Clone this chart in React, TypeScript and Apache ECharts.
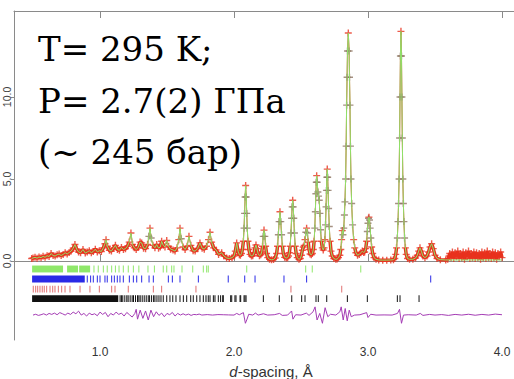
import React, { useEffect, useRef } from 'react';
import * as echarts from 'echarts';

const xTicks = [1.0, 2.0, 3.0, 4.0];
const yTicks = [0, 5, 10];
const titleLines = ['T= 295 K;', 'P= 2.7(2) ГПа', '(~ 245 бар)'];

// calculated profile [d, intensity]
const calcProfile: [number, number][] = [
  [0.49,0.15],[0.50,0.18],[0.515,0.22],[0.53,0.17],[0.545,0.24],[0.56,0.2],[0.575,0.28],[0.59,0.22],[0.605,0.32],[0.62,0.27],
  [0.635,0.45],[0.65,0.33],[0.665,0.3],[0.68,0.38],[0.695,0.42],[0.71,0.33],[0.725,0.4],[0.74,0.5],[0.755,0.42],[0.77,0.52],
  [0.785,0.6],[0.80,0.78],[0.813,1.0],[0.826,0.72],[0.84,0.55],[0.855,0.5],[0.873,0.7],[0.89,0.48],[0.905,0.55],[0.92,0.62],
  [0.935,0.5],[0.95,0.58],[0.965,0.72],[0.98,0.55],[0.995,0.62],[1.01,0.58],[1.025,0.8],[1.037,1.05],[1.045,1.3],[1.055,0.9],
  [1.07,0.65],[1.085,0.6],[1.10,0.78],[1.115,0.95],[1.13,0.7],[1.145,0.65],[1.16,0.82],[1.175,0.7],[1.19,0.75],[1.205,0.9],
  [1.218,1.15],[1.231,1.7],[1.243,1.0],[1.256,0.8],[1.27,0.7],[1.285,0.82],[1.299,1.15],[1.311,1.1],[1.325,0.78],[1.34,0.75],
  [1.355,1.0],[1.365,1.5],[1.373,2.0],[1.382,1.4],[1.395,0.95],[1.41,0.8],[1.423,1.0],[1.437,0.78],[1.45,0.85],[1.46,1.2],
  [1.472,0.95],[1.485,0.85],[1.498,1.25],[1.512,0.9],[1.527,0.72],[1.545,0.67],[1.56,0.6],[1.575,0.8],[1.588,1.3],[1.597,2.0],
  [1.606,1.35],[1.62,0.85],[1.635,0.7],[1.65,0.9],[1.664,1.5],[1.678,0.95],[1.695,0.62],[1.71,0.6],[1.728,0.75],[1.746,1.1],
  [1.762,0.78],[1.778,0.72],[1.795,0.9],[1.81,1.3],[1.821,1.75],[1.833,1.15],[1.848,0.8],[1.866,0.67],[1.885,0.4],[1.908,0.5],
  [1.925,0.3],[1.945,0.18],[1.965,0.15],[1.985,0.2],[2.0,0.3],[2.01,0.6],[2.02,1.1],[2.03,0.6],[2.04,0.38],
  [2.048,0.35],[2.056,0.45],[2.063,0.7],[2.07,1.2],[2.075,2.0],[2.079,2.9],[2.083,3.9],[2.087,4.6],[2.091,3.9],[2.095,2.9],
  [2.099,2.0],[2.104,1.2],[2.111,0.7],[2.12,0.4],[2.13,0.3],
  [2.14,0.32],[2.15,0.5],[2.157,0.8],[2.164,0.97],[2.171,0.75],[2.18,0.45],[2.19,0.32],
  [2.2,0.38],[2.207,0.55],[2.213,0.9],[2.218,1.5],[2.224,1.88],[2.23,1.5],[2.236,0.9],[2.243,0.45],[2.252,0.2],[2.265,0.1],[2.28,0.07],
  [2.295,0.09],[2.307,0.18],[2.318,0.45],[2.325,0.9],[2.331,1.6],[2.337,2.4],[2.343,3.0],[2.349,2.4],[2.355,1.6],[2.361,0.9],
  [2.368,0.45],[2.378,0.22],[2.39,0.18],
  [2.4,0.2],[2.407,0.3],[2.413,0.5],[2.419,0.9],[2.425,1.7],[2.43,2.6],[2.434,3.3],[2.438,3.7],[2.442,3.3],[2.446,2.6],
  [2.451,1.7],[2.457,0.9],[2.464,0.45],[2.472,0.2],[2.485,0.1],
  [2.495,0.15],[2.503,0.35],[2.51,0.65],[2.517,0.85],[2.524,0.95],[2.53,1.3],[2.536,1.75],[2.542,2.0],[2.548,1.7],[2.554,1.15],
  [2.56,0.7],[2.568,0.42],[2.577,0.38],
  [2.585,0.45],[2.592,0.7],[2.598,1.2],[2.603,2.0],[2.607,3.0],[2.611,4.1],[2.614,4.8],[2.617,5.2],[2.621,4.8],[2.626,4.2],
  [2.631,3.95],[2.636,3.7],[2.641,2.9],[2.646,1.9],[2.652,1.2],[2.659,0.8],[2.666,0.67],
  [2.672,0.8],[2.678,1.3],[2.683,2.2],[2.687,3.3],[2.69,4.3],[2.693,5.1],[2.696,5.6],[2.699,5.1],[2.702,4.3],[2.706,3.2],
  [2.711,2.1],[2.717,1.2],[2.724,0.6],[2.733,0.3],[2.745,0.15],[2.76,0.1],[2.77,0.12],
  [2.78,0.2],[2.79,0.35],[2.797,0.7],[2.803,1.3],[2.808,1.85],[2.813,1.6],[2.819,2.0],[2.824,2.8],[2.828,3.6],[2.833,5.0],
  [2.837,7.0],[2.8405,9.5],[2.844,11.2],[2.847,12.8],[2.853,13.9],[2.859,12.8],[2.862,11.2],[2.8655,9.5],[2.869,7.0],[2.873,5.0],
  [2.878,3.5],[2.885,2.2],[2.893,1.3],[2.901,0.8],[2.91,0.5],[2.922,0.35],
  [2.935,0.4],[2.947,0.5],[2.958,0.6],[2.968,0.52],[2.975,0.55],[2.983,0.75],[2.99,1.2],[2.995,1.8],[3.0,2.3],[3.004,2.6],
  [3.007,2.67],[3.011,2.5],[3.016,2.0],[3.021,1.4],[3.027,0.85],[3.035,0.45],[3.045,0.2],[3.06,0.1],[3.08,0.06],[3.11,0.05],
  [3.14,0.05],[3.17,0.06],
  [3.19,0.08],[3.2,0.15],[3.207,0.4],[3.213,0.8],[3.219,1.4],[3.224,2.4],[3.228,3.5],[3.232,5.0],[3.236,7.5],[3.239,10.0],
  [3.242,12.5],[3.246,14.0],[3.25,12.5],[3.253,10.0],[3.256,7.5],[3.26,5.0],[3.264,3.5],[3.268,2.4],[3.273,1.4],[3.279,0.8],
  [3.285,0.4],[3.295,0.15],[3.31,0.1],
  [3.335,0.1],[3.355,0.18],[3.368,0.35],[3.378,0.6],[3.388,0.8],[3.398,0.6],[3.41,0.3],[3.425,0.2],[3.44,0.3],[3.452,0.55],
  [3.463,0.85],[3.475,1.05],[3.487,0.75],[3.5,0.35],[3.515,0.15],[3.54,0.08],[3.58,0.06],
  [3.62,0.06],[3.7,0.06],[3.8,0.06],[3.9,0.06],[4.0,0.06],
];

// observed high-noise tail (d > 3.6)
const obsTail: [number, number][] = [
  [3.595,0.1],[3.605,0.3],[3.61,0.45],[3.62,0.2],[3.63,0.55],[3.64,0.15],[3.65,0.5],[3.66,0.25],[3.67,0.6],[3.68,0.15],
  [3.69,0.45],[3.70,0.2],[3.71,0.55],[3.72,0.1],[3.73,0.5],[3.74,0.25],[3.75,0.6],[3.76,0.15],[3.77,0.45],[3.78,0.2],
  [3.79,0.55],[3.80,0.15],[3.81,0.5],[3.82,0.2],[3.83,0.45],[3.84,0.1],[3.85,0.55],[3.86,0.2],[3.87,0.5],[3.88,0.15],
  [3.89,0.6],[3.90,0.2],[3.91,0.45],[3.92,0.15],[3.93,0.55],[3.94,0.2],[3.95,0.5],[3.96,0.1],[3.97,0.45],[3.98,0.25],
  [3.99,0.55],[4.00,0.2],
];

// difference curve (offset)
const diffCurve: [number, number][] = [
  [0.50,-3.30],[0.52,-3.25],[0.54,-3.32],[0.56,-3.28],[0.58,-3.22],[0.60,-3.30],[0.62,-3.20],[0.64,-3.26],[0.66,-3.18],[0.68,-3.28],
  [0.70,-3.15],[0.72,-3.22],[0.74,-3.30],[0.76,-3.18],[0.78,-3.26],[0.80,-3.12],[0.82,-3.22],[0.84,-3.06],[0.86,-3.30],[0.88,-3.20],
  [0.90,-3.36],[0.92,-3.18],[0.94,-3.28],[0.96,-3.22],[0.98,-3.34],[1.00,-3.12],[1.02,-3.26],[1.04,-3.14],[1.06,-3.40],[1.08,-3.20],
  [1.10,-3.30],[1.12,-3.12],[1.14,-3.26],[1.16,-3.18],[1.18,-3.36],[1.20,-3.14],[1.22,-3.28],[1.24,-3.42],[1.26,-3.20],[1.27,-2.95],
  [1.28,-3.55],[1.30,-3.00],[1.32,-3.50],[1.34,-3.05],[1.36,-3.60],[1.38,-3.00],[1.40,-3.40],[1.42,-3.10],[1.44,-3.32],[1.46,-3.18],
  [1.48,-3.40],[1.50,-3.20],[1.52,-3.28],[1.54,-3.14],[1.56,-3.36],[1.58,-3.20],[1.60,-3.30],[1.62,-3.22],[1.64,-3.30],[1.66,-3.24],
  [1.68,-3.32],[1.70,-3.26],[1.72,-3.28],[1.74,-3.24],[1.76,-3.30],[1.80,-3.27],[1.84,-3.30],[1.88,-3.27],[1.92,-3.28],[1.96,-3.29],
  [2.00,-3.30],[2.02,-3.20],[2.04,-3.28],[2.07,-3.15],[2.085,-3.80],[2.095,-3.60],[2.11,-3.25],[2.14,-3.30],[2.16,-3.18],[2.18,-3.30],
  [2.22,-3.22],[2.25,-3.30],[2.30,-3.28],[2.34,-3.20],[2.36,-3.32],[2.40,-3.30],[2.43,-3.05],[2.44,-3.55],[2.46,-3.28],[2.50,-3.30],
  [2.54,-3.18],[2.56,-3.32],[2.59,-3.10],[2.605,-2.80],[2.62,-3.60],[2.64,-3.20],[2.66,-3.80],[2.68,-2.85],[2.70,-3.40],[2.72,-3.25],
  [2.76,-3.30],[2.79,-3.10],[2.80,-2.80],[2.815,-3.60],[2.83,-2.90],[2.845,-3.65],[2.86,-3.00],[2.875,-3.40],[2.90,-3.30],[2.94,-3.28],
  [2.99,-3.15],[3.00,-3.45],[3.02,-3.25],[3.06,-3.30],[3.12,-3.29],[3.18,-3.30],[3.22,-3.20],[3.235,-2.95],[3.25,-3.80],[3.265,-3.30],
  [3.30,-3.28],[3.36,-3.30],[3.39,-3.20],[3.41,-3.32],[3.46,-3.26],[3.50,-3.30],[3.55,-3.27],[3.60,-3.32],[3.65,-3.26],[3.70,-3.30],
  [3.75,-3.25],[3.80,-3.31],[3.85,-3.26],[3.90,-3.30],[3.95,-3.24],[4.00,-3.28],
];

// reflection markers (phase tick rows)
const greenBands: [number, number][] = [[0.497,0.728],[0.758,0.84],[0.848,0.93]];
const greenTicks = [0.955,0.987,1.025,1.054,1.087,1.115,1.142,1.174,1.211,1.249,1.29,1.358,1.406,1.472,1.498,1.535,1.552,1.612,1.692,1.771,1.796,1.808,2.095,2.535,2.584,2.946];
const blueBands: [number, number][] = [[0.497,0.89]];
const blueTicks = [0.905,0.93,0.95,0.98,1.0,1.037,1.054,1.087,1.107,1.129,1.149,1.174,1.219,1.249,1.274,1.311,1.366,1.398,1.51,1.54,1.597,1.734,1.957,2.08,2.157,2.373,2.542,3.468];
const redBands: [number, number][] = [];
const redTicks = [0.502,0.52,0.535,0.552,0.569,0.584,0.602,0.627,0.647,0.664,0.689,0.714,0.739,0.776,0.851,0.925,0.995,1.087,1.112,1.211,1.398,1.46,1.716,2.425,2.804];
const blackBands: [number, number][] = [[0.497,1.14]];
const blackTicks = [1.15,1.16,1.17,1.185,1.2,1.21,1.225,1.24,1.25,1.265,1.28,1.29,1.3,1.315,1.33,1.345,1.36,1.37,1.385,1.4,1.41,1.425,1.44,1.455,1.472,1.498,1.522,1.543,1.567,1.597,1.622,1.647,1.677,1.696,1.722,1.746,1.771,1.791,1.808,1.821,1.846,1.858,1.883,1.9,1.916,1.92,1.975,1.983,2.007,2.015,2.045,2.05,2.075,2.082,2.09,2.219,2.338,2.431,2.505,2.53,2.612,2.629,2.692,2.846,2.995,3.219,3.239,3.381];
const rowCenters = [-0.49, -1.1, -1.72, -2.3];

const PLUS = 'path://M4,0H6V4H10V6H6V10H4V6H0V4H4Z';

export default function App() {
  const ref = useRef<HTMLDivElement>(null);
  useEffect(() => {
    const chart = echarts.init(ref.current!, null, { renderer: 'svg' });
    const obsProfile: [number, number][] = [...calcProfile.filter((p) => p[0] < 3.59), ...obsTail];
    // background part of the observed pattern, drawn as a thick band (peaks masked out)
    const obsBand = obsProfile.map((p) => (p[1] < 1.25 ? p : [p[0], null]));

    const rows = [
      { bands: greenBands, ticks: greenTicks, c: rowCenters[0], color: '#8fe86a' },
      { bands: blueBands, ticks: blueTicks, c: rowCenters[1], color: '#2a2ae6' },
      { bands: redBands, ticks: redTicks, c: rowCenters[2], color: '#e07070' },
      { bands: blackBands, ticks: blackTicks, c: rowCenters[3], color: '#111111' },
    ];
    const halfH = 0.21;
    const rowSeries = rows.map((r) => ({
      type: 'custom',
      silent: true,
      z: 4,
      encode: { x: [0, 1], y: 2 },
      data: [
        ...r.bands.map((b) => [b[0], b[1], r.c]),
        ...r.ticks.map((t) => [t, t, r.c]),
      ],
      renderItem: (params: any, api: any) => {
        const p0 = api.coord([api.value(0), api.value(2) + halfH]);
        const p1 = api.coord([api.value(1), api.value(2) - halfH]);
        return {
          type: 'rect',
          shape: { x: p0[0] - 0.5, y: p0[1], width: Math.max(1, p1[0] - p0[0]), height: p1[1] - p0[1] },
          style: { fill: r.color },
        };
      },
    }));

    const obsColor = (p: any) => {
      const i = p.dataIndex;
      const y = obsProfile[i][1];
      const prev = i > 0 ? obsProfile[i - 1][1] : -Infinity;
      const next = i < obsProfile.length - 1 ? obsProfile[i + 1][1] : -Infinity;
      if (y >= prev && y >= next) return '#e8321e';
      return y > 1.3 ? '#8f7563' : '#e8321e';
    };

    const axisGray = '#8a8a8a';
    const serif = 'DejaVu Serif';
    const option: any = {
      animation: false,
      grid: { left: 14, right: 0, top: 11, bottom: 39 },
      xAxis: [
        {
          type: 'value', min: 0.3582, max: 4.0896, position: 'bottom',
          axisLine: { show: true, lineStyle: { color: axisGray, width: 1 } },
          axisTick: { show: true, inside: true, length: 7, customValues: xTicks, lineStyle: { color: axisGray } },
          axisLabel: { customValues: xTicks, formatter: (v: number) => v.toFixed(1), fontSize: 12, color: '#333', margin: 6, fontFamily: 'Liberation Sans' },
          splitLine: { show: false },
        },
        {
          type: 'value', min: 0.3582, max: 4.0896, position: 'top',
          axisLine: { show: true, onZero: false, lineStyle: { color: axisGray, width: 1 } },
          axisTick: { show: true, inside: true, length: 7, customValues: xTicks, lineStyle: { color: axisGray } },
          axisLabel: { show: false },
          splitLine: { show: false },
        },
      ],
      yAxis: {
        type: 'value', min: -4.82, max: 15.24,
        axisLine: { show: true, onZero: false, lineStyle: { color: axisGray, width: 1 } },
        axisTick: { show: true, length: 3, customValues: yTicks, lineStyle: { color: axisGray } },
        axisLabel: { customValues: yTicks, rotate: 90, formatter: (v: number) => v.toFixed(1), fontSize: 10.5, color: '#444', margin: 2, fontFamily: 'Liberation Sans' },
        splitLine: { show: false },
      },
      graphic: [
        ...titleLines.map((t, i) => ({
          type: 'text', x: 38, y: 49 + i * 51.5, silent: true, z: 10,
          style: {
            text: t, fill: '#000', verticalAlign: 'middle', align: 'left',
            fontFamily: serif, fontSize: 34,
          },
        })),
        {
          type: 'text', x: 271, y: 371, silent: true,
          style: {
            text: '{i|d}-spacing, Å', fontSize: 15, fontFamily: 'Liberation Sans', fill: '#333', align: 'center', verticalAlign: 'middle',
            rich: { i: { fontStyle: 'italic', fontSize: 15, fontFamily: 'Liberation Sans', fill: '#333' } },
          },
        },
      ],
      series: [
        {
          type: 'line', data: obsBand, showSymbol: false, silent: true, z: 1, connectNulls: false,
          lineStyle: { width: 3.5, color: '#e8321e' },
        },
        {
          type: 'line', data: obsProfile, showSymbol: false, silent: true, z: 1,
          lineStyle: { width: 1, color: '#e8321e' },
        },
        {
          type: 'scatter', data: obsProfile, symbol: PLUS, symbolSize: 7, silent: true, z: 2,
          itemStyle: { color: obsColor },
        },
        {
          type: 'line', data: calcProfile, showSymbol: false, silent: true, z: 3,
          lineStyle: { color: '#8fe36a', width: 1 },
        },
        ...rowSeries,
        {
          type: 'line', data: diffCurve, showSymbol: false, silent: true, z: 3,
          lineStyle: { color: '#a43cb4', width: 1 },
        },
      ],
    };
    chart.setOption(option);
    return () => chart.dispose();
  }, []);
  return <div ref={ref} style={{ position: 'absolute', left: 0, top: 0, width: 514, height: 379 }} />;
}
